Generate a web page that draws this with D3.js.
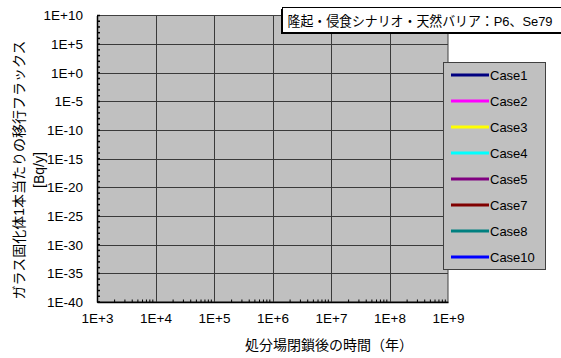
<!DOCTYPE html>
<html>
<head>
<meta charset="utf-8">
<script src="https://cdn.jsdelivr.net/npm/d3@7"></script>
<style>
  body { margin: 0; background: #fff; }
  text { font-family: "Liberation Sans", "Noto Sans CJK JP", sans-serif; fill: #000; }
</style>
</head>
<body>
<div id="chart"></div>
<script>
// data: nothing is plotted inside the axis range for this scenario
const cases = ['Case1', 'Case2', 'Case3', 'Case4', 'Case5', 'Case7', 'Case8', 'Case10'];
const caseColors = ['#000080', '#ff00ff', '#ffff00', '#00ffff', '#800080', '#800000', '#008080', '#0000ff'];
const caseTimes = [[], [], [], [], [], [], [], []];
const caseFlux = [[], [], [], [], [], [], [], []];
const xTicks = [1e3, 1e4, 1e5, 1e6, 1e7, 1e8, 1e9];
const yTicks = [1e10, 1e5, 1e0, 1e-5, 1e-10, 1e-15, 1e-20, 1e-25, 1e-30, 1e-35, 1e-40];
const chartTitle = '隆起・侵食シナリオ・天然バリア：P6、Se79';
const xTitle = '処分場閉鎖後の時間（年）';
const yTitle = ['ガラス固化体1本当たりの移行フラックス', '[Bq/y]'];

const width = 561, height = 358;
const plot = { left: 97, right: 448, top: 15.5, bottom: 302 };

const svg = d3.select('#chart').append('svg')
  .attr('width', width)
  .attr('height', height);

const x = d3.scaleLog().domain([1e3, 1e9]).range([plot.left, plot.right]);
const y = d3.scaleLog().domain([1e-40, 1e10]).range([plot.bottom, plot.top]);

const fmt = v => {
  const e = Math.round(Math.log10(v));
  return '1E' + (e < 0 ? '-' : '+') + Math.abs(e);
};

// plot background
svg.append('rect')
  .attr('x', plot.left).attr('y', plot.top)
  .attr('width', plot.right - plot.left).attr('height', plot.bottom - plot.top)
  .attr('fill', '#c0c0c0');

// grid
const grid = svg.append('g').attr('stroke', '#3a3a3a').attr('stroke-width', 1);
grid.selectAll('.gx')
  .data(xTicks.slice(1, -1))
  .join('line')
  .attr('x1', d => Math.round(x(d)) + 0.5).attr('x2', d => Math.round(x(d)) + 0.5)
  .attr('y1', plot.top).attr('y2', plot.bottom);
grid.selectAll('.gy')
  .data(yTicks.slice(1, -1))
  .join('line')
  .attr('y1', d => Math.round(y(d)) + 0.5).attr('y2', d => Math.round(y(d)) + 0.5)
  .attr('x1', plot.left).attr('x2', plot.right);

// frame
svg.append('rect')
  .attr('x', plot.left + 0.5).attr('y', plot.top)
  .attr('width', plot.right - plot.left - 0.5).attr('height', plot.bottom - plot.top)
  .attr('fill', 'none').attr('stroke', '#404040').attr('stroke-width', 1);

// series lines (empty)
const line = d3.line().x(d => x(d[0])).y(d => y(d[1]));
svg.append('g').selectAll('path')
  .data(cases)
  .join('path')
  .attr('d', (c, i) => line(d3.zip(caseTimes[i], caseFlux[i])) || null)
  .attr('fill', 'none')
  .attr('stroke', (c, i) => caseColors[i])
  .attr('stroke-width', 3);

// x axis
const xMinor = [];
for (let e = 3; e < 9; e++) for (let k = 2; k <= 9; k++) xMinor.push(k * Math.pow(10, e));
const xAxis = svg.append('g')
  .attr('transform', `translate(0,${plot.bottom})`)
  .call(d3.axisBottom(x).tickValues(xTicks).tickFormat(fmt).tickSize(0).tickPadding(11));
xAxis.select('.domain').attr('stroke', '#000').attr('stroke-width', 1.5);
xAxis.selectAll('text').attr('font-size', 13.5);
svg.append('g').selectAll('line')
  .data(xMinor)
  .join('line')
  .attr('x1', d => x(d)).attr('x2', d => x(d))
  .attr('y1', plot.bottom).attr('y2', plot.bottom - 2.5)
  .attr('stroke', '#000').attr('stroke-width', 1);

// y axis
const yMinor = d3.range(-40, 11).map(e => Math.pow(10, e));
const yAxis = svg.append('g')
  .attr('transform', `translate(${plot.left},0)`)
  .call(d3.axisLeft(y).tickValues(yTicks).tickFormat(fmt).tickSize(0).tickPadding(14));
yAxis.select('.domain').attr('stroke', '#000').attr('stroke-width', 1.5);
yAxis.selectAll('text').attr('font-size', 13.5);
svg.append('g').selectAll('line')
  .data(yMinor)
  .join('line')
  .attr('y1', d => y(d)).attr('y2', d => y(d))
  .attr('x1', plot.left).attr('x2', plot.left + 3)
  .attr('stroke', '#000').attr('stroke-width', 1.5);

// axis titles
svg.append('text')
  .attr('x', 329).attr('y', 350)
  .attr('text-anchor', 'middle').attr('font-size', 14)
  .text(xTitle);
svg.append('g')
  .attr('transform', 'translate(19,170) rotate(-90)')
  .selectAll('text')
  .data(yTitle)
  .join('text')
  .attr('x', 0).attr('y', (d, i) => i * 20 + 5)
  .attr('text-anchor', 'middle').attr('font-size', 14)
  .text(d => d);

// title box
const tb = { x: 282.5, y: 7.5, w: 290, h: 25 };
svg.append('rect')
  .attr('x', tb.x - 1.5).attr('y', tb.y + 1.5)
  .attr('width', tb.w).attr('height', tb.h)
  .attr('fill', '#000');
svg.append('rect')
  .attr('x', tb.x).attr('y', tb.y)
  .attr('width', tb.w).attr('height', tb.h)
  .attr('fill', '#fff').attr('stroke', '#000').attr('stroke-width', 1);
svg.append('text')
  .attr('x', tb.x + 5).attr('y', tb.y + 18)
  .attr('font-size', 13.5)
  .attr('textLength', 265)
  .attr('lengthAdjust', 'spacingAndGlyphs')
  .text(chartTitle);

// legend
const lg = { x: 443.5, y: 62.5, w: 102, h: 207 };
svg.append('rect')
  .attr('x', lg.x).attr('y', lg.y)
  .attr('width', lg.w).attr('height', lg.h)
  .attr('fill', '#c0c0c0').attr('stroke', '#404040').attr('stroke-width', 1);
const ly = d3.scalePoint().domain(cases).range([lg.y + 12.5, lg.y + 194.5]);
const items = svg.append('g').selectAll('g')
  .data(cases)
  .join('g')
  .attr('transform', d => `translate(0,${ly(d)})`);
items.append('line')
  .attr('x1', 451).attr('x2', 489)
  .attr('stroke', (d, i) => caseColors[i])
  .attr('stroke-width', 3);
items.append('text')
  .attr('x', 490).attr('y', 4.5)
  .attr('font-size', 13)
  .text(d => d);
</script>
</body>
</html>
